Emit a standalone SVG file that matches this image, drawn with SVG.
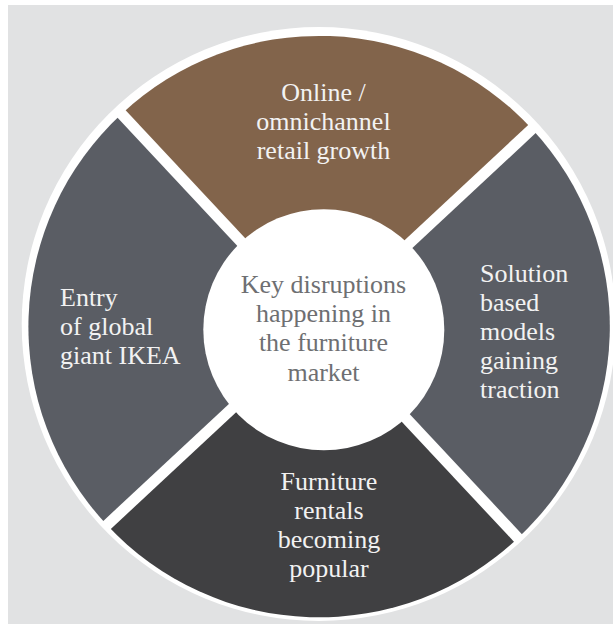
<svg xmlns="http://www.w3.org/2000/svg" width="613" height="624" viewBox="0 0 613 624">
  <style>
    .lbl { font-family: "Liberation Serif", "DejaVu Serif", serif; font-size: 26px; fill: #f2f2f2; }
    .hub { font-family: "Liberation Serif", "DejaVu Serif", serif; font-size: 26px; fill: #6e6f72; text-anchor: middle; }
    .mid { text-anchor: middle; }
    .divider { stroke: #ffffff; stroke-width: 11; fill: none; }
  </style>

  <!-- page backdrop -->
  <rect x="0" y="0" width="613" height="624" fill="#ffffff"/>
  <rect x="8" y="5" width="605" height="619" fill="#e1e2e3"/>

  <!-- white rim around the wheel -->
  <circle cx="318.7" cy="324" r="297" fill="#ffffff"/>

  <!-- top quadrant -->
  <g id="online-retail">
    <path d="M320.2,326.4 L121.5,114 A289.5,289.5 0 0 1 532,129 Z" fill="#82644b"/>
    <text class="lbl mid" x="323.5" y="101">Online /</text>
    <text class="lbl mid" x="323.5" y="130">omnichannel</text>
    <text class="lbl mid" x="323.5" y="159">retail growth</text>
  </g>

  <!-- right quadrant -->
  <g id="solution-models">
    <path d="M320.2,326.4 L532,129 A289.5,289.5 0 0 1 518,538 Z" fill="#5a5d64"/>
    <text class="lbl" x="480" y="281.5">Solution</text>
    <text class="lbl" x="480" y="310.5">based</text>
    <text class="lbl" x="480" y="339.5">models</text>
    <text class="lbl" x="480" y="368.5">gaining</text>
    <text class="lbl" x="480" y="397.5">traction</text>
  </g>

  <!-- bottom quadrant -->
  <g id="furniture-rentals">
    <path d="M320.2,326.4 L518,538 A289.5,289.5 0 0 1 107,525 Z" fill="#404042"/>
    <text class="lbl mid" x="329" y="490">Furniture</text>
    <text class="lbl mid" x="329" y="519">rentals</text>
    <text class="lbl mid" x="329" y="548">becoming</text>
    <text class="lbl mid" x="329" y="577">popular</text>
  </g>

  <!-- left quadrant -->
  <g id="ikea-entry">
    <path d="M320.2,326.4 L107,525 A289.5,289.5 0 0 1 121.5,114 Z" fill="#5a5d64"/>
    <text class="lbl" x="60" y="306">Entry</text>
    <text class="lbl" x="60" y="335">of global</text>
    <text class="lbl" x="60" y="364">giant IKEA</text>
  </g>

  <!-- white separators between quadrants -->
  <g id="connectors">
    <line class="divider" x1="118.8" y1="111.1" x2="520.7" y2="540.9"/>
    <line class="divider" x1="534.9" y1="126.3" x2="104.1" y2="527.7"/>
  </g>

  <!-- central hub -->
  <g id="hub">
    <circle cx="323.8" cy="329.7" r="120.5" fill="#ffffff"/>
    <text class="hub" x="323.5" y="292.7">Key disruptions</text>
    <text class="hub" x="323.5" y="321.7">happening in</text>
    <text class="hub" x="323.5" y="351.2">the furniture</text>
    <text class="hub" x="323.5" y="380.7">market</text>
  </g>
</svg>
